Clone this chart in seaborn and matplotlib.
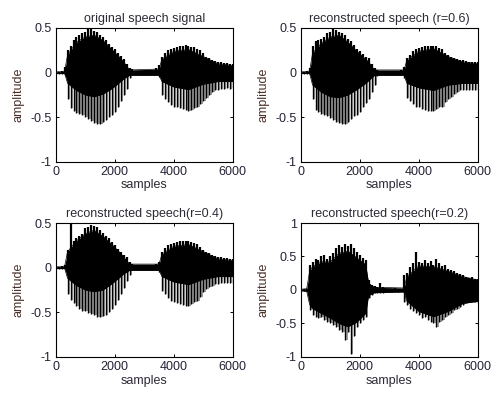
import numpy as np
import matplotlib
matplotlib.use("Agg")
import matplotlib.pyplot as plt
import seaborn as sns

# sample index of every pitch spike (one every 100 samples)
sample_pos = list(range(0, 6001, 100))

# --- original speech signal: spike tops / bottoms ---
orig_top = [0.01, 0.01, 0.02, 0.06, 0.25, 0.30, 0.36, 0.40, 0.42, 0.44,
            0.46, 0.49, 0.50, 0.47, 0.45, 0.42, 0.40, 0.36, 0.32, 0.29,
            0.26, 0.22, 0.19, 0.15, 0.10, 0.05, 0.04, 0.02, 0.01, 0.02,
            0.01, 0.02, 0.01, 0.03, 0.05, 0.08, 0.18, 0.22, 0.25, 0.27,
            0.28, 0.29, 0.30, 0.30, 0.31, 0.30, 0.29, 0.29, 0.27, 0.25,
            0.22, 0.18, 0.16, 0.14, 0.13, 0.12, 0.12, 0.11, 0.11, 0.10, 0.10]
orig_bot = [-0.01, -0.01, -0.01, -0.03, -0.30, -0.40, -0.43, -0.45, -0.46, -0.47,
            -0.50, -0.52, -0.54, -0.56, -0.58, -0.57, -0.55, -0.53, -0.50, -0.47,
            -0.44, -0.38, -0.32, -0.25, -0.18, -0.06, -0.03, -0.02, -0.02, -0.01,
            -0.02, -0.01, -0.02, -0.01, -0.02, -0.05, -0.25, -0.30, -0.33, -0.36,
            -0.38, -0.39, -0.40, -0.41, -0.42, -0.43, -0.42, -0.40, -0.38, -0.35,
            -0.32, -0.28, -0.25, -0.22, -0.20, -0.19, -0.18, -0.18, -0.17, -0.18, -0.17]

# --- reconstructed r=0.6 ---
r06_top = [0.01, 0.01, 0.02, 0.05, 0.30, 0.35, 0.37, 0.38, 0.40, 0.44,
           0.46, 0.50, 0.48, 0.46, 0.44, 0.42, 0.38, 0.35, 0.31, 0.27,
           0.24, 0.21, 0.18, 0.16, 0.10, 0.05, 0.03, 0.02, 0.02, 0.01,
           0.02, 0.01, 0.02, 0.02, 0.03, 0.06, 0.16, 0.20, 0.24, 0.27,
           0.28, 0.29, 0.30, 0.30, 0.30, 0.30, 0.30, 0.28, 0.26, 0.22,
           0.20, 0.18, 0.16, 0.15, 0.14, 0.14, 0.13, 0.12, 0.12, 0.12, 0.12]
r06_bot = [-0.01, -0.01, -0.01, -0.03, -0.30, -0.42, -0.44, -0.46, -0.48, -0.49,
           -0.51, -0.53, -0.55, -0.56, -0.58, -0.57, -0.55, -0.52, -0.49, -0.47,
           -0.44, -0.38, -0.34, -0.30, -0.22, -0.14, -0.04, -0.02, -0.02, -0.01,
           -0.02, -0.02, -0.01, -0.02, -0.02, -0.06, -0.28, -0.32, -0.35, -0.38,
           -0.39, -0.41, -0.42, -0.43, -0.43, -0.43, -0.41, -0.39, -0.38, -0.33,
           -0.29, -0.27, -0.24, -0.22, -0.20, -0.19, -0.19, -0.20, -0.20, -0.20, -0.20]

# --- reconstructed r=0.4 ---
r04_top = [0.01, 0.01, 0.02, 0.03, 0.20, 0.53, 0.30, 0.33, 0.36, 0.38,
           0.44, 0.46, 0.48, 0.47, 0.46, 0.42, 0.39, 0.36, 0.33, 0.29,
           0.25, 0.21, 0.18, 0.14, 0.12, 0.06, 0.04, 0.02, 0.01, 0.02,
           0.01, 0.02, 0.02, 0.03, 0.04, 0.06, 0.18, 0.22, 0.25, 0.27,
           0.28, 0.29, 0.30, 0.30, 0.30, 0.30, 0.29, 0.28, 0.26, 0.23,
           0.20, 0.18, 0.16, 0.14, 0.13, 0.12, 0.12, 0.11, 0.11, 0.10, 0.10]
r04_bot = [-0.01, -0.01, -0.01, -0.02, -0.30, -0.36, -0.40, -0.43, -0.46, -0.48,
           -0.49, -0.51, -0.52, -0.53, -0.55, -0.55, -0.54, -0.53, -0.50, -0.46,
           -0.42, -0.36, -0.30, -0.23, -0.15, -0.08, -0.03, -0.02, -0.02, -0.01,
           -0.02, -0.01, -0.02, -0.01, -0.02, -0.05, -0.26, -0.30, -0.34, -0.37,
           -0.38, -0.40, -0.41, -0.42, -0.43, -0.43, -0.41, -0.39, -0.37, -0.33,
           -0.27, -0.24, -0.22, -0.20, -0.18, -0.18, -0.17, -0.17, -0.17, -0.17, -0.17]

# --- reconstructed r=0.2 ---
r02_top = [0.01, 0.01, 0.02, 0.37, 0.42, 0.46, 0.45, 0.50, 0.52, 0.47,
           0.50, 0.55, 0.62, 0.67, 0.64, 0.68, 0.66, 0.69, 0.62, 0.56,
           0.52, 0.48, 0.45, 0.15, 0.08, 0.06, 0.05, 0.10, 0.04, 0.02,
           0.02, 0.02, 0.03, 0.02, 0.02, 0.22, 0.26, 0.35, 0.40, 0.57,
           0.42, 0.40, 0.45, 0.40, 0.44, 0.38, 0.47, 0.40, 0.36, 0.38,
           0.32, 0.30, 0.28, 0.25, 0.24, 0.22, 0.20, 0.18, 0.20, 0.17, 0.16]
r02_bot = [-0.01, -0.01, -0.02, -0.30, -0.38, -0.40, -0.42, -0.40, -0.45, -0.48,
           -0.50, -0.52, -0.56, -0.60, -0.62, -0.75, -0.62, -0.95, -0.68, -0.55,
           -0.50, -0.45, -0.40, -0.12, -0.08, -0.05, -0.04, -0.05, -0.04, -0.03,
           -0.02, -0.02, -0.02, -0.03, -0.02, -0.18, -0.22, -0.28, -0.32, -0.35,
           -0.38, -0.42, -0.40, -0.45, -0.48, -0.50, -0.55, -0.48, -0.45, -0.40,
           -0.38, -0.35, -0.30, -0.28, -0.25, -0.22, -0.20, -0.18, -0.17, -0.18, -0.20]

# dense black core of each trace, read at the envelope breakpoints
core_pos = [0, 200, 300, 400, 700, 1000, 1300, 1600, 1900, 2200,
            2300, 2500, 3500, 3600, 4000, 4500, 5000, 5500, 6000]
orig_core_hi = [0.01, 0.01, 0.02, 0.20, 0.34, 0.40, 0.42, 0.36, 0.26, 0.16,
                0.12, 0.03, 0.04, 0.15, 0.24, 0.26, 0.18, 0.10, 0.08]
orig_core_lo = [-0.01, -0.01, -0.01, -0.12, -0.20, -0.25, -0.27, -0.24, -0.18, -0.10,
                -0.07, -0.03, -0.03, -0.10, -0.16, -0.19, -0.13, -0.10, -0.10]
r06_core_hi = [0.01, 0.01, 0.02, 0.22, 0.33, 0.40, 0.42, 0.34, 0.24, 0.15,
               0.12, 0.03, 0.03, 0.14, 0.24, 0.27, 0.18, 0.12, 0.10]
r06_core_lo = [-0.01, -0.01, -0.01, -0.14, -0.22, -0.27, -0.28, -0.25, -0.19, -0.12,
               -0.09, -0.03, -0.03, -0.12, -0.17, -0.20, -0.14, -0.12, -0.12]
r04_core_hi = [0.01, 0.01, 0.02, 0.18, 0.30, 0.38, 0.42, 0.35, 0.26, 0.16,
               0.12, 0.04, 0.04, 0.15, 0.24, 0.26, 0.18, 0.10, 0.08]
r04_core_lo = [-0.01, -0.01, -0.01, -0.12, -0.20, -0.25, -0.27, -0.25, -0.18, -0.10,
               -0.07, -0.03, -0.03, -0.10, -0.16, -0.19, -0.13, -0.10, -0.10]
r02_core_hi = [0.01, 0.02, 0.28, 0.35, 0.42, 0.42, 0.55, 0.58, 0.48, 0.38,
               0.10, 0.04, 0.03, 0.20, 0.36, 0.35, 0.28, 0.20, 0.15]
r02_core_lo = [-0.01, -0.02, -0.22, -0.28, -0.35, -0.42, -0.50, -0.55, -0.48, -0.35,
               -0.08, -0.04, -0.03, -0.17, -0.32, -0.40, -0.32, -0.20, -0.17]

titles = ["original speech signal", "reconstructed speech (r=0.6)",
          "reconstructed speech(r=0.4)", "reconstructed speech(r=0.2)"]
tops = [orig_top, r06_top, r04_top, r02_top]
bots = [orig_bot, r06_bot, r04_bot, r02_bot]
core_his = [orig_core_hi, r06_core_hi, r04_core_hi, r02_core_hi]
core_los = [orig_core_lo, r06_core_lo, r04_core_lo, r02_core_lo]
ylims = [(-1, 0.5), (-1, 0.5), (-1, 0.5), (-1, 1)]
yticks = [[-1, -0.5, 0, 0.5], [-1, -0.5, 0, 0.5], [-1, -0.5, 0, 0.5], [-1, -0.5, 0, 0.5, 1]]
ytick_labels = [["-1", "-0.5", "0", "0.5"]] * 3 + [["-1", "-0.5", "0", "0.5", "1"]]

sns.set_theme(style="ticks")
plt.rcParams['font.family'] = ['Liberation Sans', 'DejaVu Sans']
plt.rcParams['xtick.direction'] = 'in'
plt.rcParams['ytick.direction'] = 'in'
plt.rcParams['xtick.top'] = True
plt.rcParams['ytick.right'] = True

fig, axes = plt.subplots(2, 2, figsize=(4.94, 3.94), dpi=100)
fig.subplots_adjust(left=0.113, right=0.967, bottom=0.094, top=0.929,
                    wspace=0.385, hspace=0.456)

x = np.array(sample_pos)
for i, ax in enumerate(axes.flat):
    top = np.array(tops[i])
    bot = np.array(bots[i])
    zero = np.zeros_like(bot)
    # grey shadow next to each negative spike
    ax.vlines(x + 50, bot, zero, color='0.6', lw=1.4, zorder=1)
    # black spikes: wide above zero so they merge, thinner below
    ax.vlines(x, zero, top, color='black', lw=1.6, zorder=2)
    ax.vlines(x, bot, zero, color='black', lw=1.0, zorder=2)
    # dense black core on top of the spikes
    ax.fill_between(core_pos, core_los[i], core_his[i], color='black', lw=0, zorder=3)
    sns.lineplot(x=core_pos, y=core_his[i], color='black', lw=0.5, ax=ax, zorder=3)
    sns.lineplot(x=core_pos, y=core_los[i], color='black', lw=0.5, ax=ax, zorder=3)

    ax.set_xlim(0, 6000)
    ax.set_ylim(*ylims[i])
    ax.set_xticks([0, 2000, 4000, 6000])
    ax.set_yticks(yticks[i])
    ax.set_yticklabels(ytick_labels[i])
    ax.tick_params(labelsize=9, length=2.5, width=0.7, pad=3, colors='black',
                   labelcolor='#262236')
    for sp in ax.spines.values():
        sp.set_linewidth(0.8)
        sp.set_color('black')
    ax.set_title(titles[i], fontsize=9, color='#2e2a36', pad=4)
    ax.set_xlabel('samples', fontsize=9, color='#2e2a36', labelpad=1)
    ax.set_ylabel('amplitude', fontsize=9, color='#4a3028', labelpad=4)

plt.savefig('out.png', dpi=100)
